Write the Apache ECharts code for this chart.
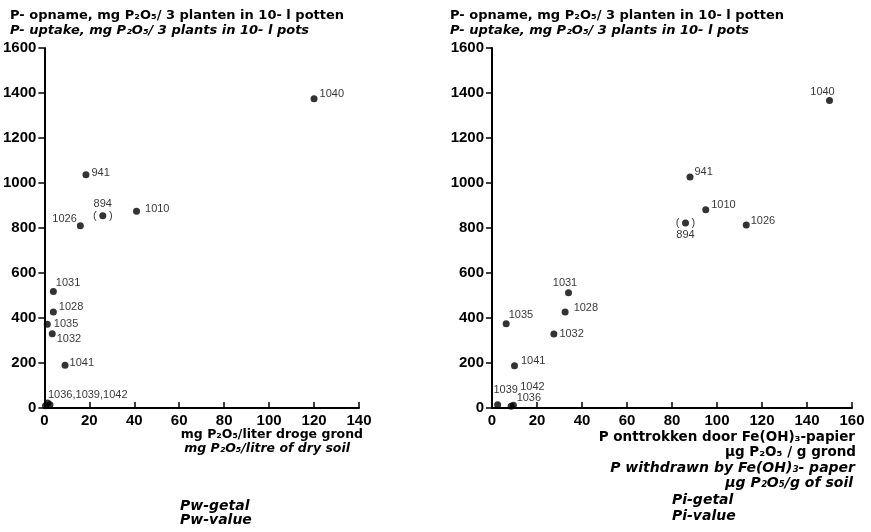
<!DOCTYPE html>
<html>
<head>
<meta charset="utf-8">
<script src="https://cdn.jsdelivr.net/npm/echarts@6/dist/echarts.min.js"></script>
<style>
html,body{margin:0;padding:0;background:#fff;}
#chart{width:871px;height:532px;}
</style>
</head>
<body>
<div id="chart"></div>
<script>
// ---- data ----
const pwNames = ['1040', '941', '894', '1010', '1026', '1031', '1028', '1035', '1032', '1041', '1036', '1039', '1042'];
const pwX = [120, 18.5, 26, 41, 16, 4, 4, 1.3, 3.5, 9.2, 0.5, 1.5, 2.5];
const pwY = [1375, 1037, 855, 875, 810, 518, 427, 372, 330, 190, 10, 22, 15];
const pwLabels = ['1040', '941', '894', '1010', '1026', '1031', '1028', '1035', '1032', '1041', '1036,1039,1042', '', ''];

const piNames = ['1040', '941', '894', '1010', '1026', '1031', '1028', '1035', '1032', '1041', '1039', '1042', '1036'];
const piX = [150, 88, 86, 95, 113, 34, 32.5, 6.3, 27.5, 10, 2.5, 9.5, 8.5];
const piY = [1367, 1027, 822, 881, 813, 512, 427, 375, 329, 188, 15, 12, 8];
const piLabels = ['1040', '941', '894', '1010', '1026', '1031', '1028', '1035', '1032', '1041', '1039', '1042', '1036'];

const yTicks = { min: 0, max: 1600, interval: 200 };
const pwTicks = { min: 0, max: 140, interval: 20 };
const piTicks = { min: 0, max: 160, interval: 20 };

const titleNl = 'P- opname, mg P\u2082O\u2085/ 3 planten in 10- l potten';
const titleEn = 'P- uptake, mg P\u2082O\u2085/ 3 plants in 10- l pots';
const pwAxisNl = 'mg P\u2082O\u2085/liter droge grond';
const pwAxisEn = 'mg P\u2082O\u2085/litre of dry soil';
const pwNameNl = 'Pw-getal';
const pwNameEn = 'Pw-value';
const piAxisNl1 = 'P onttrokken door Fe(OH)\u2083-papier';
const piAxisNl2 = '\u00b5g P\u2082O\u2085 / g grond';
const piAxisEn1 = 'P withdrawn by Fe(OH)\u2083- paper';
const piAxisEn2 = '\u00b5g P\u2082O\u2085/g of soil';
const piNameNl = 'Pi-getal';
const piNameEn = 'Pi-value';

// ---- label placement (style) ----
const pwLabelCfg = {
  '1040': { position: 'right', offset: [-3, -5] },
  '941': { position: 'right', offset: [-3, -2] },
  '894': { position: 'inside', offset: [0, -6], twoLine: 'below' },
  '1010': { position: 'right', offset: [0, -2] },
  '1026': { position: 'left', offset: [5, -7] },
  '1031': { position: 'right', offset: [-6, -8] },
  '1028': { position: 'right', offset: [-3, -5] },
  '1035': { position: 'right', offset: [-2, 0] },
  '1032': { position: 'right', offset: [-4, 5] },
  '1041': { position: 'right', offset: [-4, -2] },
  '1036': { position: 'right', offset: [-6, -11] },
  '1039': { position: 'right', offset: [0, 0] },
  '1042': { position: 'right', offset: [0, 0] }
};
const piLabelCfg = {
  '1040': { position: 'top', offset: [-7, 6] },
  '941': { position: 'right', offset: [-4, -5] },
  '894': { position: 'inside', offset: [0, 6], twoLine: 'above' },
  '1010': { position: 'right', offset: [-3, -5] },
  '1026': { position: 'right', offset: [-4, -4] },
  '1031': { position: 'top', offset: [-3.5, 4.5] },
  '1028': { position: 'right', offset: [0, -4] },
  '1035': { position: 'right', offset: [-6, -9] },
  '1032': { position: 'right', offset: [-3, 0] },
  '1041': { position: 'right', offset: [-2, -5] },
  '1039': { position: 'top', offset: [8, 0] },
  '1042': { position: 'top', offset: [19, -4] },
  '1036': { position: 'right', offset: [-3, -8] }
};

const labelFont = { fontFamily: 'Liberation Sans', fontSize: 11, color: '#000' };

function buildData(names, xs, ys, labels, cfg) {
  return names.map(function (n, i) {
    const c = cfg[n];
    let text = labels[i];
    if (c.twoLine === 'below') text = text + '\n(    )';
    if (c.twoLine === 'above') text = '(    )\n' + text;
    return {
      name: n,
      value: [xs[i], ys[i]],
      label: Object.assign({
        show: text !== '',
        formatter: text,
        position: c.position,
        offset: c.offset,
        lineHeight: 12
      }, labelFont)
    };
  });
}

const axisLineStyle = { color: '#000', width: 2 };
const axisLabelStyle = { fontFamily: 'Liberation Sans', fontSize: 15, fontWeight: 'bold', color: '#000' };

function yAxis(gi) {
  return {
    type: 'value', gridIndex: gi, min: yTicks.min, max: yTicks.max, interval: yTicks.interval,
    axisLine: { show: true, lineStyle: axisLineStyle },
    axisTick: { show: true, inside: false, length: 6, lineStyle: { color: '#000', width: 1.5 } },
    axisLabel: Object.assign({ margin: 8, formatter: function (v) { return String(v); } }, axisLabelStyle),
    splitLine: { show: false }
  };
}
function xAxis(gi, t) {
  return {
    type: 'value', gridIndex: gi, min: t.min, max: t.max, interval: t.interval,
    axisLine: { show: true, onZero: false, lineStyle: axisLineStyle },
    axisTick: { show: true, inside: true, length: 6, lineStyle: { color: '#000', width: 1.5 } },
    axisLabel: Object.assign({ margin: 5, formatter: function (v) { return String(v); } }, axisLabelStyle),
    splitLine: { show: false }
  };
}

function txt(x, y, text, opts) {
  return {
    type: 'text', x: x, y: y,
    style: Object.assign({
      text: text, fill: '#000', fontFamily: 'DejaVu Sans', fontSize: 13, fontWeight: 'bold',
      align: 'left', verticalAlign: 'middle'
    }, opts || {})
  };
}

const chart = echarts.init(document.getElementById('chart'), null, { renderer: 'canvas' });
chart.setOption({
  animation: false,
  backgroundColor: '#fff',
  grid: [
    { left: 44, top: 48, width: 315, height: 360 },
    { left: 492, top: 48, width: 360, height: 360 }
  ],
  xAxis: [xAxis(0, pwTicks), xAxis(1, piTicks)],
  yAxis: [yAxis(0), yAxis(1)],
  series: [
    {
      type: 'scatter', xAxisIndex: 0, yAxisIndex: 0, symbolSize: 7,
      itemStyle: { color: '#000' },
      data: buildData(pwNames, pwX, pwY, pwLabels, pwLabelCfg)
    },
    {
      type: 'scatter', xAxisIndex: 1, yAxisIndex: 1, symbolSize: 7,
      itemStyle: { color: '#000' },
      data: buildData(piNames, piX, piY, piLabels, piLabelCfg)
    }
  ],
  graphic: [
    txt(10, 16, titleNl),
    txt(10, 31, titleEn, { fontStyle: 'italic' }),
    txt(450, 16, titleNl),
    txt(450, 31, titleEn, { fontStyle: 'italic' }),
    txt(363, 435, pwAxisNl, { align: 'right', fontSize: 12.5 }),
    txt(350, 449, pwAxisEn, { align: 'right', fontSize: 12.5, fontStyle: 'italic' }),
    txt(180, 506, pwNameNl, { fontSize: 14, fontStyle: 'italic' }),
    txt(180, 520, pwNameEn, { fontSize: 14, fontStyle: 'italic' }),
    txt(855, 437, piAxisNl1, { align: 'right', fontSize: 13.5 }),
    txt(856, 452, piAxisNl2, { align: 'right', fontSize: 13.5 }),
    txt(855, 468, piAxisEn1, { align: 'right', fontSize: 14, fontStyle: 'italic' }),
    txt(853, 483, piAxisEn2, { align: 'right', fontSize: 14, fontStyle: 'italic' }),
    txt(672, 500, piNameNl, { fontSize: 14, fontStyle: 'italic' }),
    txt(672, 516, piNameEn, { fontSize: 14, fontStyle: 'italic' })
  ]
});
</script>
</body>
</html>
